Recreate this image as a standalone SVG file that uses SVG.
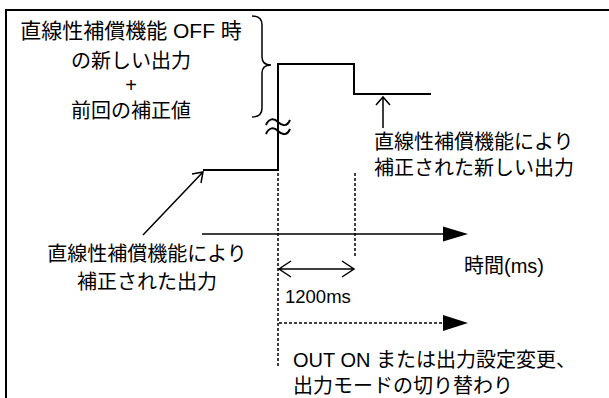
<svg xmlns="http://www.w3.org/2000/svg" width="609" height="398" viewBox="0 0 609 398">
<style>
text{font-family:"Liberation Sans","Noto Sans CJK JP",sans-serif;font-size:20px;fill:#000}
.c{text-anchor:middle}
.sig{fill:none;stroke:#000;stroke-width:2}
.ln{fill:none;stroke:#000;stroke-width:1.5}
.dash{fill:none;stroke:#000;stroke-width:1.5;stroke-dasharray:3 2}
</style>
<rect x="6" y="10" width="700" height="500" fill="#fff" stroke="#000" stroke-width="2"/>
<g id="signal">
<path class="sig" d="M203,170 H278 V64 H354 V94 H431"/>
<path class="sig" d="M266,125 C269,118 274,118 278,122 C282,126 287,127 290,120"/>
<path class="sig" d="M266,134 C269,127 274,127 278,131 C282,135 287,136 290,129"/>
</g>
<g id="note-off">
<text class="c" x="131" y="38" style="font-size:21px">直線性補償機能 OFF 時</text>
<text class="c" x="131" y="68">の新しい出力</text>
<text class="c" x="131" y="92">+</text>
<text class="c" x="131" y="118">前回の補正値</text>
<path class="ln" d="M252,16 Q262,16 262,25 L262,57 Q262,65 271,65 Q262,65 262,73 L262,108 Q262,117 252,117"/>
</g>
<g id="note-new">
<text x="374" y="149">直線性補償機能により</text>
<text x="374" y="175">補正された新しい出力</text>
</g>
<g id="note-old">
<text class="c" x="147" y="261">直線性補償機能により</text>
<text class="c" x="147" y="289">補正された出力</text>
</g>
<g id="time-label"><text x="464" y="273">時間(ms)</text></g>
<g id="dur-label"><text x="285" y="303" style="font-size:18.5px">1200ms</text></g>
<g id="event-label">
<text x="293" y="367">OUT ON または出力設定変更、</text>
<text x="293" y="393">出力モードの切り替わり</text>
</g>
<g id="connectors">
<path class="ln" d="M383,128 V97 M376,105 L383,97 L390,105"/>
<path class="ln" d="M143,235 L203,172 M192,174 L203,172 L201,183"/>
<path class="ln" d="M202,234 H445"/>
<polygon points="443,226.5 468,234 443,241.5" fill="#000"/>
<path class="dash" d="M278,173 V368"/>
<path class="dash" d="M355,173 V256"/>
<path class="ln" d="M279,269 H354 M291,261 L279,269 L291,277 M342,261 L354,269 L342,277"/>
<path class="dash" d="M279,323 H445"/>
<polygon points="443,315 468,323 443,331" fill="#000"/>
</g>
</svg>
